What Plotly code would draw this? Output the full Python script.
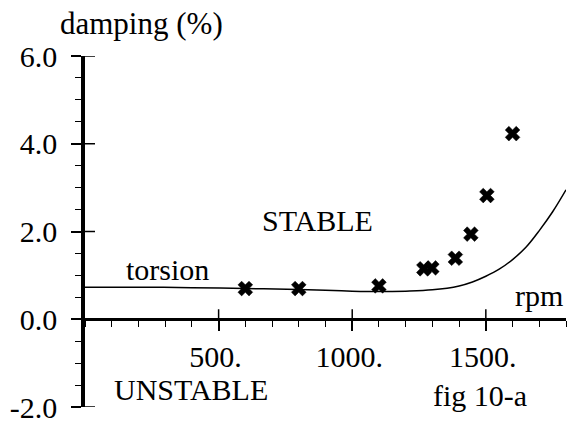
import plotly.graph_objects as go

# Measured data (rpm, damping %)
meas_rpm = [600, 800, 1100, 1268, 1298, 1386, 1444, 1504, 1600]
meas_damp = [0.70, 0.70, 0.76, 1.15, 1.17, 1.39, 1.94, 2.82, 4.23]

# Theoretical torsion curve
curve_rpm = [0, 200, 400, 600, 800, 900, 1000, 1100, 1200, 1300, 1400, 1450,
             1500, 1550, 1600, 1650, 1700, 1750, 1800]
curve_damp = [0.73, 0.73, 0.72, 0.70, 0.68, 0.66, 0.64, 0.63, 0.64, 0.67, 0.76,
              0.85, 0.98, 1.14, 1.36, 1.64, 2.02, 2.45, 2.95]

x_ticks = [500, 1000, 1500]
x_ticktext = ["500.", "1000.", "1500."]
y_ticks = [-2, 0, 2, 4, 6]
y_ticktext = ["-2.0", "0.0", "2.0", "4.0", "6.0"]

FONT = "Liberation Serif"
FS = 30

fig = go.Figure()
fig.add_trace(go.Scatter(x=curve_rpm, y=curve_damp, mode="lines",
                         line=dict(color="black", width=1.5, shape="spline"),
                         showlegend=False, hoverinfo="skip"))
fig.add_trace(go.Scatter(x=meas_rpm, y=meas_damp, mode="markers",
                         marker=dict(symbol="x", size=13, color="black",
                                     line=dict(width=0.5, color="black")),
                         showlegend=False))

fig.update_layout(
    width=570, height=428,
    margin=dict(l=85, r=4, t=56, b=18),
    paper_bgcolor="white", plot_bgcolor="white",
    font=dict(family=FONT, size=FS, color="black"),
    xaxis=dict(range=[0, 1800], anchor="free", position=0.25,
               showline=True, linewidth=3, linecolor="black",
               showgrid=False, zeroline=False,
               tickmode="array", tickvals=x_ticks, ticktext=x_ticktext,
               ticks="outside", ticklen=10, tickwidth=1.5, tickcolor="black",
               ticklabelshift=-3,
               tickfont=dict(family=FONT, size=FS),
               minor=dict(ticks="outside", ticklen=6, tickwidth=1,
                          tickcolor="black", tick0=0, dtick=100, showgrid=False)),
    yaxis=dict(range=[-2, 6], anchor="x",
               showline=True, linewidth=3.5, linecolor="black",
               showgrid=False, zeroline=False,
               tickmode="array", tickvals=y_ticks, ticktext=y_ticktext,
               ticks="outside", ticklen=10, tickwidth=1.5, tickcolor="black",
               ticklabelstandoff=8,
               tickfont=dict(family=FONT, size=FS),
               minor=dict(ticks="outside", ticklen=6, tickwidth=1,
                          tickcolor="black", tick0=0, dtick=0.5, showgrid=False)),
)

# inner halves of the major ticks (ticks cross the axis lines)
for v in x_ticks:
    fig.add_shape(type="line", xref="x", yref="y", x0=v, x1=v,
                  ysizemode="pixel", yanchor=0, y0=0, y1=10,
                  line=dict(color="black", width=1.5))
for v in y_ticks:
    fig.add_shape(type="line", xref="x", yref="y", y0=v, y1=v,
                  xsizemode="pixel", xanchor=0, x0=0, x1=10,
                  line=dict(color="black", width=1.5))

def note(text, x, y, xanchor="center", xref="x", yref="y", size=FS):
    fig.add_annotation(text=text, x=x, y=y, xref=xref, yref=yref,
                       xanchor=xanchor, yanchor="middle", showarrow=False,
                       font=dict(family=FONT, size=size, color="black"))

note("damping (%)", -0.056, 1.092, xanchor="left", xref="paper", yref="paper", size=31)
note("STABLE", 869, 2.24)
note("torsion", 307, 1.13)
note("rpm", 1700, 0.54)
note("UNSTABLE", 397, -1.60)
note("fig 10-a", 1479, -1.74)

fig.write_html("out.html")
